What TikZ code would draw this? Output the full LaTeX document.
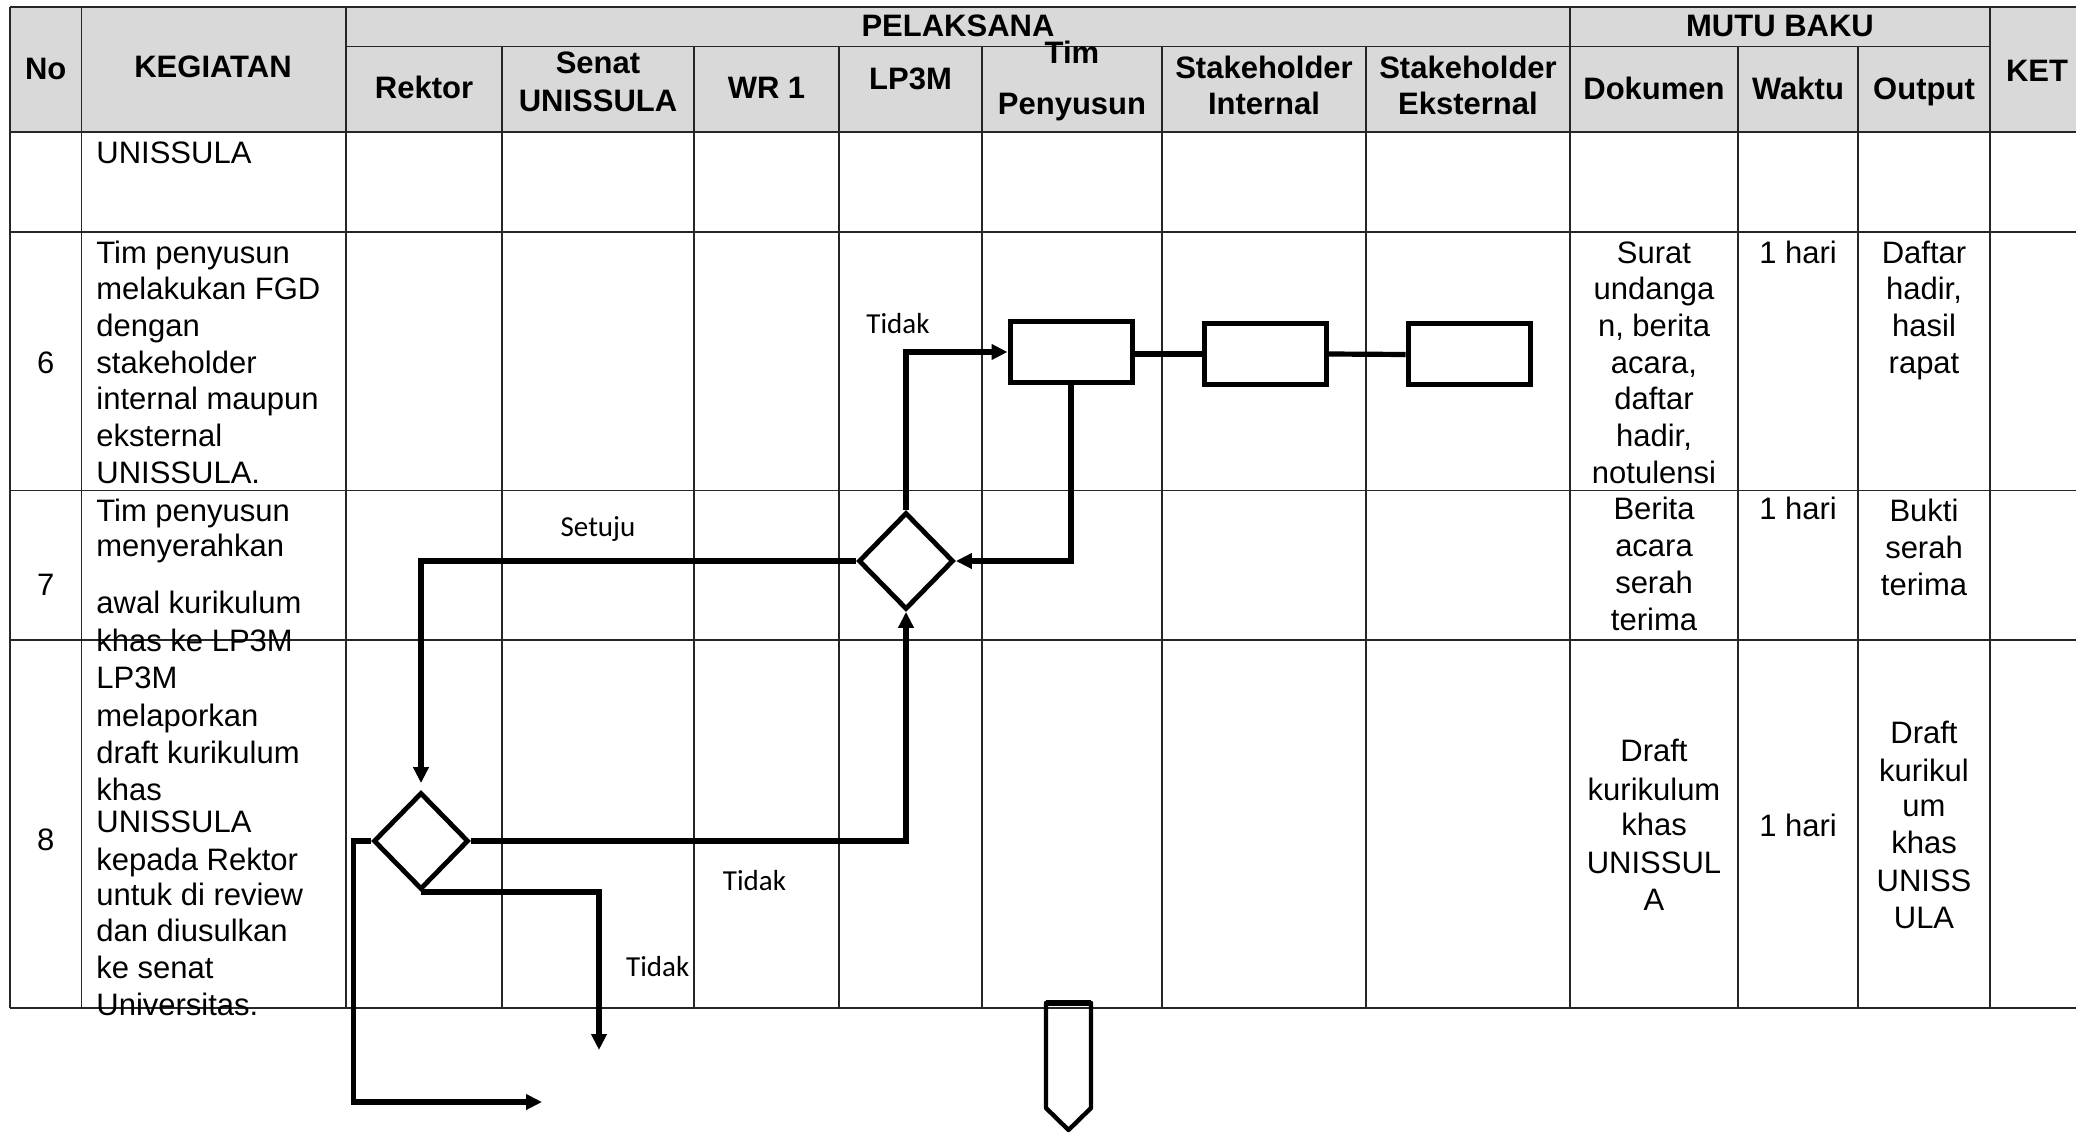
\documentclass[tikz,border=0pt]{standalone}
\usepackage{fontspec}
\setmainfont{Liberation Sans}
\newfontfamily\calibri{Carlito}
\usetikzlibrary{arrows.meta,shapes.geometric}
\definecolor{hdr}{HTML}{D9D9D9}
\begin{document}
\begin{tikzpicture}[x=0.5pt,y=-0.5pt,
  grid/.style={line width=0.75pt,draw=black!85},
  hd/.style={font=\fontsize{15.5}{18}\selectfont\bfseries,anchor=base,inner sep=0},
  tx/.style={font=\fontsize{15.5}{18}\selectfont,anchor=base west,inner sep=0},
  tc/.style={font=\fontsize{15.5}{18}\selectfont,anchor=base,inner sep=0},
  lbl/.style={font=\calibri\fontsize{14.5}{17}\selectfont,anchor=base,inner sep=0},
  procbox/.style={draw,line width=2.5pt,minimum width=61pt,minimum height=30.5pt,inner sep=0},
  decision/.style={draw,diamond,line width=2.4pt,minimum width=47.5pt,minimum height=48.5pt,inner sep=0},
  arr/.style={line width=2.6pt,-{Triangle[length=8pt,width=7.5pt]}},
  flow/.style={line width=2.6pt}
]
\useasboundingbox (0,0) rectangle (2076,1133);
% ---------- table ----------
\fill[hdr] (10,7) rectangle (2080,132);
\foreach \y in {7,132,232,490.7,640,1008} \draw[grid] (10,\y) -- (2080,\y);
\draw[grid] (346,46.5) -- (1990,46.5);
\foreach \x in {10,81.5,346,1570,1990} \draw[grid] (\x,7) -- (\x,1008);
\foreach \x in {502,694,839,982,1162,1366,1738,1858} \draw[grid] (\x,46.5) -- (\x,1008);
% ---------- header ----------
\node[hd] (hNo) at (45.7,80) {No};
\node[hd] (hKeg) at (213,78) {KEGIATAN};
\node[hd] (hPel) at (958,37) {PELAKSANA};
\node[hd] (hMutu) at (1780,37) {MUTU BAKU};
\node[hd] (hKet) at (2037,81.7) {KET};
\node[hd] (hRek) at (424,98.3) {Rektor};
\node[hd] (hSen1) at (598,74) {Senat};
\node[hd] (hSen2) at (598,112) {UNISSULA};
\node[hd] (hWR) at (766.5,98.3) {WR 1};
\node[hd] (hLP) at (910.5,90) {LP3M};
\node[hd] (hTim1) at (1072,63.3) {Tim};
\node[hd] (hTim2) at (1072,115) {Penyusun};
\node[hd] (hSI1) at (1264,78.3) {Stakeholder};
\node[hd] (hSI2) at (1264,115) {Internal};
\node[hd] (hSE1) at (1468,78.3) {Stakeholder};
\node[hd] (hSE2) at (1468,115) {Eksternal};
\node[hd] (hDok) at (1654,99.5) {Dokumen};
\node[hd] (hWak) at (1798,99.5) {Waktu};
\node[hd] (hOut) at (1924,99.5) {Output};
% ---------- row 5 (end) ----------
\node[tx] (r5k) at (96,164) {UNISSULA};
% ---------- row 6 ----------
\node[tc] (n6) at (45.7,373.3) {6};
\foreach \t [count=\i] in {Tim penyusun,melakukan FGD,dengan,stakeholder,internal maupun,eksternal,UNISSULA.}
  \node[tx] (r6k\i) at (96,{263.3+36.67*(\i-1)}) {\t};
\foreach \t [count=\i] in {Surat,undanga,{n, berita},{acara,},daftar,{hadir,},notulensi}
  \node[tc] (r6d\i) at (1654,{263.3+36.67*(\i-1)}) {\t};
\node[tc] (r6w) at (1798,263.3) {1 hari};
\foreach \t [count=\i] in {Daftar,{hadir,},hasil,rapat}
  \node[tc] (r6o\i) at (1924,{263.3+36.67*(\i-1)}) {\t};
% ---------- row 7 ----------
\node[tc] (n7) at (45.7,595) {7};
\node[tx] (r7k1) at (96,521.7) {Tim penyusun};
\node[tx] (r7k2) at (96,556.7) {menyerahkan};
\node[tx] (r7k3) at (96,613.3) {awal kurikulum};
\node[tx] (r7k4) at (96,651.7) {khas ke LP3M};
\foreach \t [count=\i] in {Berita,acara,serah,terima}
  \node[tc] (r7d\i) at (1654,{520+36.67*(\i-1)}) {\t};
\node[tc] (r7w) at (1798,520) {1 hari};
\foreach \t [count=\i] in {Bukti,serah,terima}
  \node[tc] (r7o\i) at (1924,{521.7+36.67*(\i-1)}) {\t};
% ---------- row 8 ----------
\node[tc] (n8) at (45.7,850) {8};
\node[tx] (r8k1) at (96,688.3) {LP3M};
\node[tx] (r8k2) at (96,726.7) {melaporkan};
\node[tx] (r8k3) at (96,763.3) {draft kurikulum};
\node[tx] (r8k4) at (96,800) {khas};
\node[tx] (r8k5) at (96,832.3) {UNISSULA};
\node[tx] (r8k6) at (96,870) {kepada Rektor};
\node[tx] (r8k7) at (96,905) {untuk di review};
\node[tx] (r8k8) at (96,941.7) {dan diusulkan};
\node[tx] (r8k9) at (96,978.3) {ke senat};
\node[tx] (r8k10) at (96,1015) {Universitas.};
\node[tc] (r8d1) at (1654,761.7) {Draft};
\node[tc] (r8d2) at (1654,800) {kurikulum};
\node[tc] (r8d3) at (1654,835) {khas};
\node[tc] (r8d4) at (1654,873.3) {UNISSUL};
\node[tc] (r8d5) at (1654,910) {A};
\node[tc] (r8w) at (1798,836.7) {1 hari};
\node[tc] (r8o1) at (1924,743.3) {Draft};
\node[tc] (r8o2) at (1924,781.7) {kurikul};
\node[tc] (r8o3) at (1924,816.7) {um};
\node[tc] (r8o4) at (1924,853.3) {khas};
\node[tc] (r8o5) at (1924,891.7) {UNISS};
\node[tc] (r8o6) at (1924,928.3) {ULA};
% ---------- flow ----------
\node[procbox] (b1) at (1071,352) {};
\node[procbox] (b2) at (1265,354) {};
\node[procbox] (b3) at (1469,354.5) {};
\node[decision] (d7) at (906,561) {};
\node[decision] (d8) at (421,841) {};
\coordinate (e1) at (599,1050);
\coordinate (e2) at (542,1102);
\draw[flow] (b1.east |- b2.west) -- (b2.west);
\draw[flow] (b2.east) -- (b3.west);
\draw[arr] (d7.north) |- (b1.west);
\draw[arr] (b1.south) |- (d7.east);
\draw[arr,shorten >=3.5pt] (d7.west) -| (d8.north);
\draw[arr] (d8.east) -| (d7.south);
\draw[arr] (d8.south) -| (e1);
\draw[arr] (d8.west) -- ++(-18,0) |- (e2);
% off-page connector
\draw[line width=2.2pt,line join=round] (1046,1003) -- (1091,1003) -- (1091,1108) -- (1068.5,1130) -- (1046,1108) -- cycle;
\draw[line width=3.2pt] (1046,1003) -- (1091,1003);
% labels
\node[lbl] (lt1) at (898,333.5) {Tidak};
\node[lbl] (ls) at (598,536.7) {Setuju};
\node[lbl] (lt2) at (754.5,890) {Tidak};
\node[lbl] (lt3) at (657.7,976.7) {Tidak};
\end{tikzpicture}
\end{document}
